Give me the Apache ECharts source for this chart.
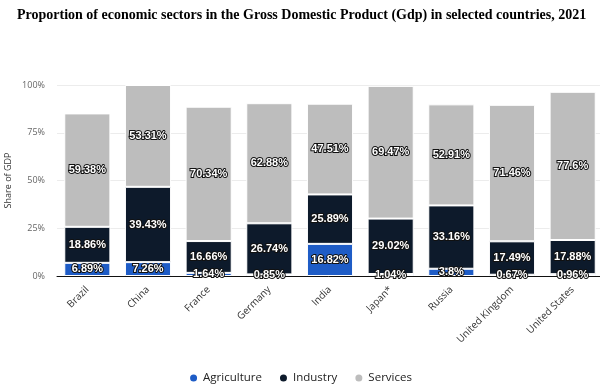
<!DOCTYPE html>
<html>
<head>
<meta charset="utf-8">
<script src="https://cdn.jsdelivr.net/npm/echarts@6/dist/echarts.min.js"></script>
<style>html,body{margin:0;padding:0;background:#fff;}#c{width:600px;height:388px;}</style>
</head>
<body>
<div id="c"></div>
<script>
const categories = ["Brazil","China","France","Germany","India","Japan*","Russia","United Kingdom","United States"];
const agriculture = [6.89, 7.26, 1.64, 0.85, 16.82, 1.04, 3.8, 0.67, 0.96];
const industry = [18.86, 39.43, 16.66, 26.74, 25.89, 29.02, 33.16, 17.49, 17.88];
const services = [59.38, 53.31, 70.34, 62.88, 47.51, 69.47, 52.91, 71.46, 77.6];
const yTicks = [0, 25, 50, 75, 100];

const chart = echarts.init(document.getElementById('c'), null, {renderer: 'canvas'});
const labelStyle = {
  show: true,
  position: 'inside',
  color: '#fff',
  fontWeight: 'bold',
  fontSize: 11,
  fontFamily: 'Liberation Sans',
  textBorderColor: '#111',
  textBorderWidth: 2,
  formatter: p => p.value + '%'
};
function mk(name, data, color) {
  return {
    name, type: 'bar', stack: 'gdp', data,
    barCategoryGap: '24%',
    itemStyle: {color, borderColor: '#fff', borderWidth: 1},
    label: labelStyle,
    labelLayout: {hideOverlap: false},
    emphasis: {disabled: true}
  };
}
chart.setOption({
  animation: false,
  title: {
    text: 'Proportion of economic sectors in the Gross Domestic Product (Gdp) in selected countries, 2021',
    left: 12, top: 3,
    textStyle: {fontFamily: 'Liberation Serif', fontWeight: 'bold', fontSize: 14, color: '#000'}
  },
  legend: {
    bottom: -1, left: 'center',
    icon: 'circle', itemWidth: 9, itemHeight: 9, itemGap: 16,
    textStyle: {fontFamily: 'Open Sans', fontSize: 11.5, color: '#222'},
    data: ['Agriculture', 'Industry', 'Services']
  },
  grid: {left: 57, right: -3, top: 85, bottom: 112, containLabel: false, outerBoundsMode: 'none'},
  xAxis: {
    type: 'category', data: categories,
    axisLine: {lineStyle: {color: '#111', width: 1}},
    axisTick: {show: false},
    axisLabel: {rotate: 45, fontSize: 10, color: '#333', fontFamily: 'Open Sans', margin: 12}
  },
  yAxis: {
    type: 'value', min: 0, max: 100, interval: 25,
    name: 'Share of GDP', nameLocation: 'middle', nameGap: 44, nameMoveOverlap: false,
    nameTextStyle: {fontSize: 9, color: '#333', fontFamily: 'Open Sans'},
    axisLabel: {formatter: v => yTicks.includes(v) ? v + '%' : '', fontSize: 9, color: '#666', fontFamily: 'Open Sans', margin: 12},
    splitLine: {lineStyle: {color: '#ececec', width: 1}},
    axisLine: {show: false}, axisTick: {show: false}
  },
  series: [
    mk('Agriculture', agriculture, '#1e5cc6'),
    mk('Industry', industry, '#0d1a2b'),
    mk('Services', services, '#bdbdbd')
  ]
});
</script>
</body>
</html>
